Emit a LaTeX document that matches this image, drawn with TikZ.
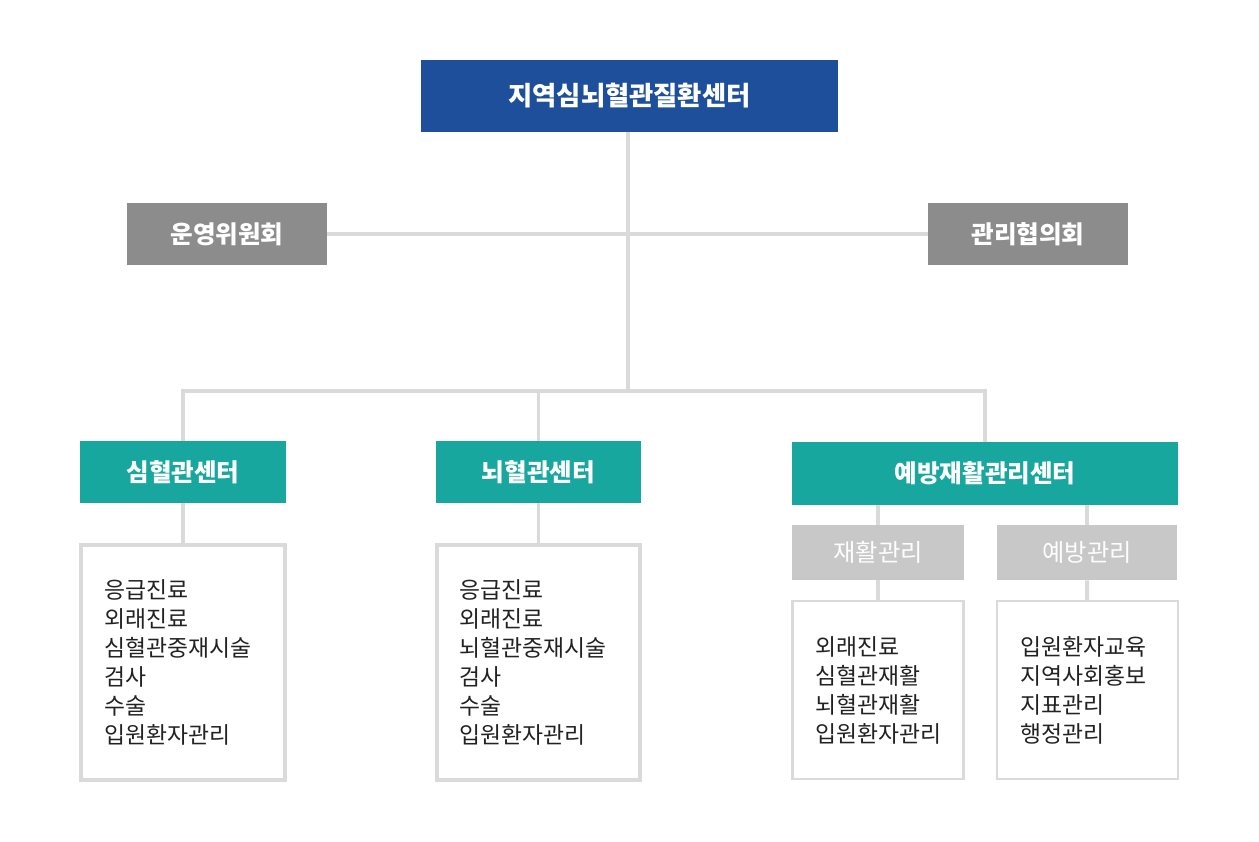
\documentclass[tikz,border=0pt]{standalone}
\usepackage{fontspec}
\newfontfamily\kr{Noto Sans CJK KR}
\definecolor{krblue}{RGB}{30,79,154}
\definecolor{krgray}{RGB}{140,140,140}
\definecolor{krteal}{RGB}{23,167,158}
\definecolor{krsub}{RGB}{200,200,200}
\definecolor{krline}{RGB}{218,218,218}
\definecolor{krtext}{RGB}{34,34,34}
\usetikzlibrary{positioning}

\begin{document}
\begin{tikzpicture}[
  x=0.02cm,y=-0.02cm,
  every node/.style={font=\kr},
  topbox/.style={fill=krblue,text=white,minimum width=8.34cm,minimum height=1.44cm,
                 font=\kr\bfseries\fontsize{15}{18}\selectfont},
  sidebox/.style={fill=krgray,text=white,minimum width=4.0cm,minimum height=1.24cm,
                  font=\kr\bfseries\fontsize{14}{16}\selectfont},
  centerbox/.style={fill=krteal,text=white,minimum height=1.24cm,
                    font=\kr\bfseries\fontsize{14}{16}\selectfont},
  subbox/.style={fill=krsub,text=white!97!krsub,minimum height=1.1cm,
                 font=\kr\fontsize{13.8}{16}\selectfont},
  listbox/.style={draw=krline,line width=2.27pt,fill=white,text=krtext,align=left,
                  inner xsep=0.46cm,font=\kr\fontsize{13}{16.5}\selectfont},
  link/.style={draw=krline,line width=2.27pt},
]
  \useasboundingbox (0,0) rectangle (1259,842);

  % top
  \node[topbox] (center) at (629.5,96) {지역심뇌혈관질환센터};

  % committees
  \node[sidebox] (committee) at (227,234) {운영위원회};
  \node[sidebox] (council) at (1028,234) {관리협의회};

  % centers
  \node[centerbox,minimum width=4.12cm] (heart) at (183,472) {심혈관센터};
  \node[centerbox,minimum width=4.1cm] (brain) at (538.5,472) {뇌혈관센터};
  \node[centerbox,minimum width=7.72cm,minimum height=1.26cm] (prev) at (985,473.5) {예방재활관리센터};

  % sub units
  \node[subbox,minimum width=3.44cm] (rehab) at (878,552.5) {재활관리};
  \node[subbox,minimum width=3.6cm] (prevent) at (1087,552.5) {예방관리};

  % task lists
  \node[listbox,text width=3.16cm,minimum height=4.7cm] (heartlist) at (183,662.5)
    {응급진료\\외래진료\\심혈관중재시술\\검사\\수술\\입원환자관리};
  \node[listbox,text width=3.16cm,minimum height=4.7cm] (brainlist) at (538.5,662.5)
    {응급진료\\외래진료\\뇌혈관중재시술\\검사\\수술\\입원환자관리};
  \node[listbox,line width=1.2pt,text width=2.5cm,minimum height=3.56cm] (rehablist) at (878,690)
    {외래진료\\심혈관재활\\뇌혈관재활\\입원환자관리};
  \node[listbox,line width=1.2pt,text width=2.7cm,minimum height=3.56cm] (preventlist) at (1087.5,690)
    {입원환자교육\\지역사회홍보\\지표관리\\행정관리};

  % tree lines
  \coordinate (hubB) at (628,391);
  \draw[link] (center.south -| hubB) -- (hubB);
  \draw[link] (committee) -- (council);
  \draw[link] (heart.north) |- (hubB) -| (prev.north);
  \draw[link] (hubB) -| (brain.north);
  \draw[link] (heart) -- (heartlist);
  \draw[link] (brain) -- (brainlist);
  \draw[link] (prev.south -| rehab) -- (rehab);
  \draw[link] (prev.south -| prevent) -- (prevent);
  \draw[link] (rehab) -- (rehablist);
  \draw[link] (prevent) -- (preventlist);
\end{tikzpicture}
\end{document}
